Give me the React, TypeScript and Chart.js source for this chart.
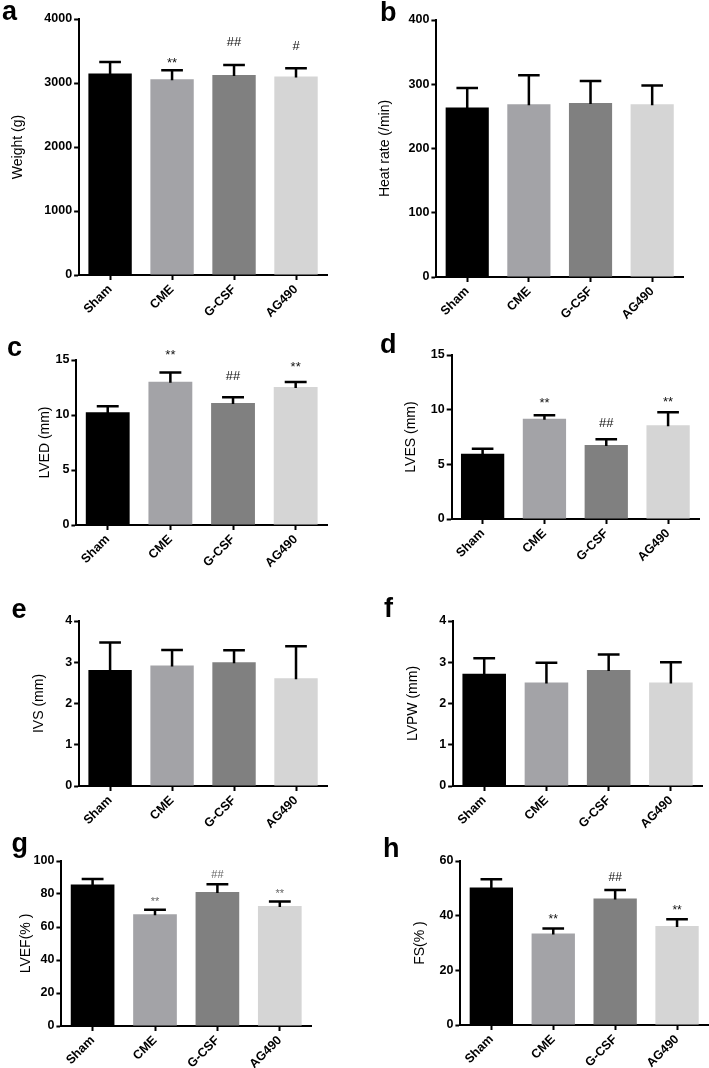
import React, { useEffect, useRef } from 'react';
import { Chart, registerables } from 'chart.js';

Chart.register(...registerables);
Chart.defaults.font.family = "'Liberation Sans', Arial, sans-serif";
Chart.defaults.color = '#000';

// ---------- data ----------
const groups = ['Sham', 'CME', 'G-CSF', 'AG490'];
const barColors = ['#000000', '#a3a3a7', '#808080', '#d5d5d5'];

const weightMean = [3150, 3060, 3125, 3100];
const weightSD = [180, 140, 155, 130];
const weightMarks = ['', '**', '##', '#'];
const weightMarkAt = [0, 3255, 3583, 3516];

const heartMean = [264, 269, 271, 269];
const heartSD = [30, 45, 34, 29];
const heartMarks = ['', '', '', ''];
const heartMarkAt = [0, 0, 0, 0];

const lvedMean = [10.24, 13.03, 11.09, 12.55];
const lvedSD = [0.55, 0.84, 0.52, 0.45];
const lvedMarks = ['', '**', '##', '**'];
const lvedMarkAt = [0, 15.1, 13.2, 13.96];

const lvesMean = [5.96, 9.16, 6.76, 8.58];
const lvesSD = [0.46, 0.34, 0.54, 1.19];
const lvesMarks = ['', '**', '##', '**'];
const lvesMarkAt = [0, 10.23, 8.46, 10.37];

const ivsMean = [2.81, 2.92, 3.0, 2.61];
const ivsSD = [0.67, 0.38, 0.29, 0.78];
const ivsMarks = ['', '', '', ''];
const ivsMarkAt = [0, 0, 0, 0];

const lvpwMean = [2.72, 2.51, 2.81, 2.51];
const lvpwSD = [0.38, 0.48, 0.38, 0.49];
const lvpwMarks = ['', '', '', ''];
const lvpwMarkAt = [0, 0, 0, 0];

const lvefMean = [85.7, 67.7, 81.2, 72.7];
const lvefSD = [3.4, 2.8, 4.7, 2.7];
const lvefMarks = ['', '**', '##', '**'];
const lvefMarkAt = [0, 73.2, 89.9, 78.4];

const fsMean = [50.3, 33.5, 46.3, 36.2];
const fsSD = [3.0, 1.8, 3.1, 2.5];
const fsMarks = ['', '**', '##', '**'];
const fsMarkAt = [0, 37.3, 52.7, 40.5];

// ---------- panels (layout) ----------
type PanelDef = {
  letter: string;
  title: string;
  mean: number[];
  sd: number[];
  marks: string[];
  markAt: number[];
  max: number;
  step: number;
  axisX: number;
  top: number;
  bottom: number;
  right: number;
  titleX: number;
  letterX: number;
  letterBase: number;
  markFont: number;
  markColor: string;
};

const panels: PanelDef[] = [
  { letter: 'a', title: 'Weight (g)', mean: weightMean, sd: weightSD, marks: weightMarks, markAt: weightMarkAt, max: 4000, step: 1000,
    axisX: 79, top: 19, bottom: 275, right: 327, titleX: 18.3, letterX: 2, letterBase: 21, markFont: 13, markColor: '#111' },
  { letter: 'b', title: 'Heat rate (/min)', mean: heartMean, sd: heartSD, marks: heartMarks, markAt: heartMarkAt, max: 400, step: 100,
    axisX: 436, top: 20, bottom: 277, right: 683, titleX: 385, letterX: 380, letterBase: 21.7, markFont: 13, markColor: '#111' },
  { letter: 'c', title: 'LVED (mm)', mean: lvedMean, sd: lvedSD, marks: lvedMarks, markAt: lvedMarkAt, max: 15, step: 5,
    axisX: 76, top: 360, bottom: 525, right: 327, titleX: 45, letterX: 7, letterBase: 357, markFont: 13, markColor: '#111' },
  { letter: 'd', title: 'LVES (mm)', mean: lvesMean, sd: lvesSD, marks: lvesMarks, markAt: lvesMarkAt, max: 15, step: 5,
    axisX: 452, top: 355, bottom: 519, right: 699, titleX: 411.7, letterX: 380, letterBase: 353.3, markFont: 13, markColor: '#111' },
  { letter: 'e', title: 'IVS (mm)', mean: ivsMean, sd: ivsSD, marks: ivsMarks, markAt: ivsMarkAt, max: 4, step: 1,
    axisX: 79, top: 621, bottom: 786, right: 327, titleX: 39.3, letterX: 11.5, letterBase: 618.5, markFont: 13, markColor: '#111' },
  { letter: 'f', title: 'LVPW (mm)', mean: lvpwMean, sd: lvpwSD, marks: lvpwMarks, markAt: lvpwMarkAt, max: 4, step: 1,
    axisX: 453, top: 621, bottom: 786, right: 702, titleX: 413.3, letterX: 384, letterBase: 618, markFont: 13, markColor: '#111' },
  { letter: 'g', title: 'LVEF(% )', mean: lvefMean, sd: lvefSD, marks: lvefMarks, markAt: lvefMarkAt, max: 100, step: 20,
    axisX: 61, top: 861, bottom: 1026, right: 311, titleX: 26, letterX: 11.5, letterBase: 852.5, markFont: 11, markColor: '#666' },
  { letter: 'h', title: 'FS(% )', mean: fsMean, sd: fsSD, marks: fsMarks, markAt: fsMarkAt, max: 60, step: 20,
    axisX: 460, top: 861, bottom: 1025, right: 708, titleX: 420, letterX: 383, letterBase: 857.7, markFont: 12, markColor: '#111' },
];

const PAD_TOP = 12;
const X_AXIS_H = 50;
const TITLE_LH = 14 * 1.2;

function Panel({ p }: { p: PanelDef }) {
  const ref = useRef<HTMLCanvasElement | null>(null);
  const left = p.titleX - TITLE_LH / 2;
  const width = Math.round(p.right - left + 1);
  const height = Math.round(PAD_TOP + (p.bottom - p.top) + X_AXIS_H);
  const yWidth = p.axisX - left;

  useEffect(() => {
    if (!ref.current) return;
    const errorPlugin = {
      id: 'errs',
      afterDatasetsDraw(chart: any) {
        const ctx = chart.ctx;
        const meta = chart.getDatasetMeta(0);
        const ys = chart.scales.y;
        ctx.save();
        meta.data.forEach((bar: any, i: number) => {
          const x = bar.x;
          const w = bar.width;
          const y0 = ys.getPixelForValue(p.mean[i]);
          const y1 = ys.getPixelForValue(p.mean[i] + p.sd[i]);
          ctx.strokeStyle = '#000';
          ctx.lineWidth = 2.5;
          ctx.beginPath();
          ctx.moveTo(x, y0 + 1);
          ctx.lineTo(x, y1);
          ctx.moveTo(x - w / 4, y1);
          ctx.lineTo(x + w / 4, y1);
          ctx.stroke();
          if (p.marks[i]) {
            ctx.fillStyle = p.markColor;
            ctx.font = `${p.markFont}px 'Liberation Sans', Arial, sans-serif`;
            ctx.textAlign = 'center';
            ctx.textBaseline = 'alphabetic';
            ctx.fillText(p.marks[i], x, ys.getPixelForValue(p.markAt[i]));
          }
        });
        ctx.restore();
      },
    };
    const chart = new Chart(ref.current, {
      type: 'bar',
      data: {
        labels: groups,
        datasets: [
          {
            data: p.mean,
            backgroundColor: barColors,
            borderWidth: 0,
            barPercentage: 0.7,
            categoryPercentage: 1,
          },
        ],
      },
      options: {
        responsive: false,
        animation: false,
        events: [],
        layout: { padding: { top: PAD_TOP, right: 1, left: 0, bottom: 0 } },
        plugins: { legend: { display: false }, tooltip: { enabled: false } },
        scales: {
          x: {
            afterFit: (s: any) => { s.height = X_AXIS_H; },
            border: { display: true, color: '#000', width: 2 },
            grid: { display: true, offset: false, drawOnChartArea: false, drawTicks: true, tickLength: 5, tickColor: '#000', tickWidth: 2 },
            ticks: { color: '#000', font: { size: 12.5, weight: 'bold' }, maxRotation: 45, minRotation: 45, padding: 2 },
          },
          y: {
            min: 0,
            max: p.max,
            afterFit: (s: any) => { s.width = yWidth; },
            border: { display: true, color: '#000', width: 2 },
            grid: { display: true, drawOnChartArea: false, drawTicks: true, tickLength: 5, tickColor: '#000', tickWidth: 2 },
            ticks: {
              stepSize: p.step,
              color: '#000',
              font: { size: 12.5, weight: 'bold' },
              padding: 2,
              callback: (v: any) => String(v),
            },
            title: { display: true, text: p.title, color: '#000', font: { size: 14 }, padding: 0 },
          },
        },
      },
      plugins: [errorPlugin],
    } as any);
    return () => chart.destroy();
  }, []);

  return (
    <>
      <canvas
        ref={ref}
        width={width}
        height={height}
        style={{ position: 'absolute', left, top: p.top - PAD_TOP, width, height }}
      />
      <div
        style={{
          position: 'absolute',
          left: p.letterX,
          top: p.letterBase - 22.8,
          fontFamily: "'Liberation Sans', Arial, sans-serif",
          fontWeight: 'bold',
          fontSize: 27,
          lineHeight: '27px',
          color: '#000',
        }}
      >
        {p.letter}
      </div>
    </>
  );
}

export default function App() {
  return (
    <div
      style={{
        position: 'absolute',
        left: 0,
        top: 0,
        width: 709,
        height: 1068,
        overflow: 'hidden',
        background: '#fff',
      }}
    >
      {panels.map((p) => (
        <Panel key={p.letter} p={p} />
      ))}
    </div>
  );
}
